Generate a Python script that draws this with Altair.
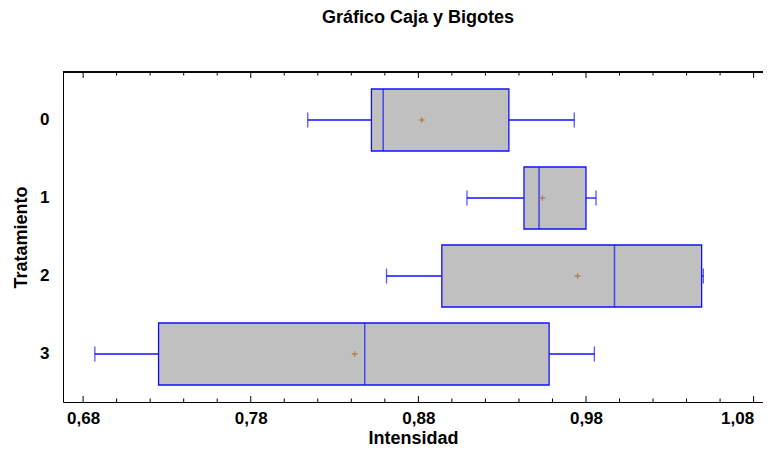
import altair as alt
import pandas as pd

# ---- data ----
tratamiento = ["0", "1", "2", "3"]
minimo = [0.814, 0.909, 0.861, 0.687]
q1 = [0.852, 0.943, 0.894, 0.725]
mediana = [0.859, 0.952, 0.997, 0.848]
q3 = [0.934, 0.980, 1.049, 0.958]
maximo = [0.973, 0.986, 1.050, 0.985]
media = [0.882, 0.954, 0.975, 0.842]

major_ticks = [0.68, 0.78, 0.88, 0.98, 1.08]
minor_ticks = [0.70, 0.72, 0.74, 0.76, 0.80, 0.82, 0.84, 0.86, 0.90, 0.92,
               0.94, 0.96, 1.00, 1.02, 1.04, 1.06]

W, H = 700, 330
FONT = "Liberation Sans"
BLUE = "#1010ff"
BOX_FILL = "#c0c0c0"
MEAN_COLOR = "#b4641e"

df = pd.DataFrame({
    "Tratamiento": tratamiento, "min": minimo, "q1": q1, "med": mediana,
    "q3": q3, "max": maximo, "mean": media,
})
major_df = pd.DataFrame({"v": major_ticks})
minor_df = pd.DataFrame({"v": minor_ticks})

xscale = alt.Scale(domain=[0.668, 1.0856], nice=False, zero=False)
yscale = alt.Scale(domain=tratamiento, paddingInner=0.205, paddingOuter=0.218)

xaxis = alt.Axis(values=major_ticks, labelExpr="replace(format(datum.value,'.2f'),'.',',')",
                 ticks=False, grid=False, domainColor="#000", domainWidth=1,
                 labelFont=FONT, labelFontSize=17, labelFontWeight="bold", labelColor="#000",
                 labelPadding=8, labelOverlap=False, labelFlush=12,
                 title="Intensidad", titleFont=FONT, titleFontSize=18,
                 titleFontWeight="bold", titleColor="#000", titlePadding=3)
yaxis = alt.Axis(ticks=False, grid=False, domainColor="#000", domainWidth=1,
                 labelFont=FONT, labelFontSize=17, labelFontWeight="bold", labelColor="#000",
                 labelPadding=14, labelAngle=0, title="Tratamiento", titleFont=FONT,
                 titleFontSize=18, titleFontWeight="bold", titleColor="#000", titlePadding=9)

base = alt.Chart(df)
Y = alt.Y("Tratamiento:N", scale=yscale, axis=yaxis, sort=tratamiento)

whisk_lo = base.mark_rule(color=BLUE, strokeWidth=1.3).encode(
    x=alt.X("min:Q", scale=xscale, axis=xaxis), x2="q1:Q", y=Y)
whisk_hi = base.mark_rule(color=BLUE, strokeWidth=1.3).encode(
    x=alt.X("q3:Q", scale=xscale), x2="max:Q", y=Y)
cap_lo = base.mark_tick(color=BLUE, size=15, thickness=1.3, orient="vertical").encode(
    x=alt.X("min:Q", scale=xscale), y=Y)
cap_hi = base.mark_tick(color=BLUE, size=15, thickness=1.3, orient="vertical").encode(
    x=alt.X("max:Q", scale=xscale), y=Y)
box = base.mark_bar(fill=BOX_FILL, stroke=BLUE, strokeWidth=1.3).encode(
    x=alt.X("q1:Q", scale=xscale), x2="q3:Q", y=Y)
med = base.mark_tick(color=BLUE, size=62, thickness=1.5, orient="vertical").encode(
    x=alt.X("med:Q", scale=xscale), y=Y)
mean = base.mark_point(shape="M-1,0L1,0M0,-1L0,1", size=32, stroke=MEAN_COLOR,
                       strokeWidth=1.3, filled=False).encode(
    x=alt.X("mean:Q", scale=xscale), y=Y)


def tick_layer(data, length, top):
    y0 = 0 if top else H
    y1 = length if top else H - length
    return alt.Chart(data).mark_rule(color="#000", strokeWidth=1).encode(
        x=alt.X("v:Q", scale=xscale), y=alt.value(y0), y2=alt.value(y1))


top_line = alt.Chart(major_df).mark_rule(color="#000", strokeWidth=1).encode(
    x=alt.value(0), x2=alt.value(W), y=alt.value(0))

chart = alt.layer(
    whisk_lo, whisk_hi, cap_lo, cap_hi, box, med, mean,
    tick_layer(major_df, 6, False), tick_layer(minor_df, 3.5, False),
    tick_layer(major_df, 6, True), tick_layer(minor_df, 3.5, True),
    top_line,
).properties(
    width=W, height=H,
    title=alt.Title("Gráfico Caja y Bigotes", font=FONT, fontSize=18, fontWeight="bold",
                    color="#000", anchor="middle", offset=45, dx=5),
    autosize=alt.AutoSizeParams(type="none"),
    padding={"left": 55, "top": 64, "right": 0, "bottom": 52},
).configure_view(stroke=None)

chart.save("out.html", embed_options={"renderer": "svg", "actions": False})
